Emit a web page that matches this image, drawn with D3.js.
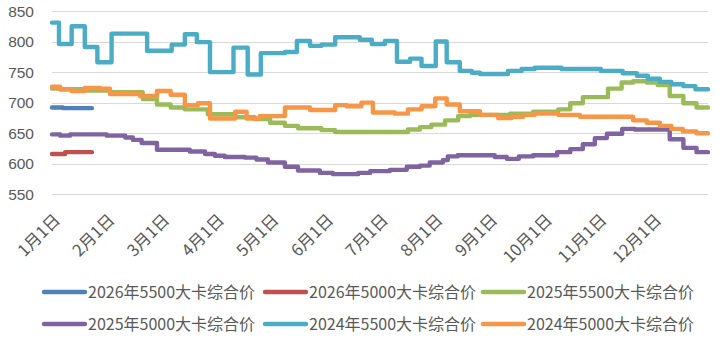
<!DOCTYPE html>
<html>
<head>
<meta charset="utf-8">
<script src="https://cdn.jsdelivr.net/npm/d3@7"></script>
<style>
  html, body { margin: 0; padding: 0; background: #fff; }
  svg { display: block; }
  text { font-family: "Noto Sans CJK SC", "Noto Sans", sans-serif; fill: #595959; }
  text.ynum { font-family: "Liberation Sans", "DejaVu Sans", sans-serif; }
</style>
</head>
<body>
<svg id="chart" width="719" height="337"></svg>
<script>
// ---- Data (x = months since Jan 1, value = price) ----
const monthLabels = ["1月1日","2月1日","3月1日","4月1日","5月1日","6月1日","7月1日","8月1日","9月1日","10月1日","11月1日","12月1日"];
const yTicks = [550, 600, 650, 700, 750, 800, 850];
const seriesNames = ["2026年5500大卡综合价","2026年5000大卡综合价","2025年5500大卡综合价","2025年5000大卡综合价","2024年5500大卡综合价","2024年5000大卡综合价"];
const seriesColors = ["#4F81BD","#C0504D","#9BBB59","#8064A2","#4BACC6","#F79646"];
const seriesEnds = [0.73, 0.73, 12, 12, 12, 12];

const p2026_5500 = [[0,692],[0.2,691]];
const p2026_5000 = [[0,616],[0.24,619]];
const p2025_5500 = [[0,723],[0.15,722],[0.57,720],[1.06,717],[1.66,706],[1.92,697],[2.17,692],[2.43,689],[2.85,681],[3.35,676],[3.71,673],[3.99,667],[4.26,662],[4.50,658],[4.93,655],[5.18,652],[6.51,656],[6.73,660],[6.94,664],[7.19,671],[7.43,678],[7.65,680],[8.38,682],[8.80,685],[9.26,689],[9.48,699],[9.71,709],[10.17,723],[10.42,733],[10.63,735],[10.88,733],[11.08,729],[11.30,711],[11.55,699],[11.79,692]];
const p2025_5000 = [[0,648],[0.15,646],[0.33,648],[1.00,646],[1.34,643],[1.48,639],[1.64,634],[1.92,623],[2.52,620],[2.80,616],[2.98,613],[3.16,611],[3.53,610],[3.74,607],[3.95,602],[4.26,595],[4.50,589],[4.90,585],[5.14,583],[5.60,585],[5.82,588],[6.18,590],[6.49,595],[6.73,597],[6.91,602],[7.15,606],[7.24,612],[7.42,614],[8.10,611],[8.32,608],[8.54,612],[8.80,614],[9.24,619],[9.48,624],[9.71,632],[9.93,642],[10.15,649],[10.43,657],[10.66,656],[11.30,640],[11.55,626],[11.79,619]];
const p2024_5500 = [[0,831],[0.128,796],[0.36,825],[0.60,791],[0.83,766],[1.09,813],[1.74,785],[2.19,795],[2.43,812],[2.65,799],[2.89,750],[3.32,790],[3.58,746],[3.82,781],[4.26,783],[4.48,801],[4.72,793],[4.93,795],[5.18,807],[5.63,803],[5.85,796],[6.09,801],[6.31,767],[6.55,772],[6.76,760],[7.02,800],[7.22,766],[7.46,752],[7.68,749],[7.83,747],[8.34,752],[8.59,755],[8.83,757],[9.32,755],[10.04,752],[10.44,748],[10.70,744],[10.90,739],[11.12,734],[11.33,730],[11.55,727],[11.77,722]];
const p2024_5000 = [[0,726],[0.15,722],[0.36,719],[0.60,724],[0.88,723],[1.06,714],[1.61,711],[1.92,719],[2.17,713],[2.43,696],[2.67,699],[2.89,674],[3.35,685],[3.56,674],[3.80,678],[4.26,692],[4.72,688],[5.18,696],[5.39,694],[5.66,700],[5.87,684],[6.27,682],[6.51,689],[6.76,694],[7.01,707],[7.22,697],[7.46,686],[7.83,680],[8.16,675],[8.41,677],[8.62,680],[8.83,682],[9.26,680],[9.66,677],[10.63,671],[10.88,667],[11.12,662],[11.33,657],[11.54,653],[11.79,650]];

const seriesData = [p2026_5500, p2026_5000, p2025_5500, p2025_5000, p2024_5500, p2024_5000];

// ---- Layout ----
const svg = d3.select("#chart");
const x = d3.scaleLinear().domain([0, 12]).range([52, 708]);
const y = d3.scaleLinear().domain([550, 850]).range([194.3, 11]);

// gridlines
svg.append("g").selectAll("line").data(yTicks).join("line")
  .attr("x1", 52).attr("x2", 708)
  .attr("y1", d => Math.round(y(d)) + 0.5).attr("y2", d => Math.round(y(d)) + 0.5)
  .attr("stroke", "#D9D9D9").attr("stroke-width", 1);

// y axis labels
svg.append("g").selectAll("text").data(yTicks).join("text")
  .attr("class", "ynum")
  .attr("x", 34).attr("y", d => y(d))
  .attr("dy", "0.36em")
  .attr("text-anchor", "end")
  .style("font-size", "15.5px")
  .text(d => d);

// x axis labels
svg.append("g").selectAll("text").data(monthLabels).join("text")
  .attr("transform", (d, i) => `translate(${x(i) + 5},${217}) rotate(-45)`)
  .attr("text-anchor", "end")
  .attr("dy", "0.35em")
  .style("font-size", "16.5px")
  .text(d => d);

// lines
const line = d3.line().x(d => x(d[0])).y(d => y(d[1])).curve(d3.curveStepAfter);
seriesData.forEach((s, i) => {
  const pts = s.concat([[seriesEnds[i], s[s.length - 1][1]]]);
  svg.append("path")
    .attr("d", line(pts))
    .attr("fill", "none")
    .attr("stroke", seriesColors[i])
    .attr("stroke-width", 4.4)
    .attr("stroke-linejoin", "round")
    .attr("stroke-linecap", "round");
});

// legend
const legendX = [44, 265, 483];
const legendY = [292, 324];
seriesNames.forEach((name, i) => {
  const lx = legendX[i % 3], ly = legendY[Math.floor(i / 3)];
  svg.append("line")
    .attr("x1", lx).attr("x2", lx + 41)
    .attr("y1", ly).attr("y2", ly)
    .attr("stroke", seriesColors[i]).attr("stroke-width", 4.4)
    .attr("stroke-linecap", "round");
  svg.append("text")
    .attr("x", lx + 44).attr("y", ly)
    .attr("dy", "0.35em")
    .style("font-size", "16px")
    .text(name);
});
</script>
</body>
</html>
